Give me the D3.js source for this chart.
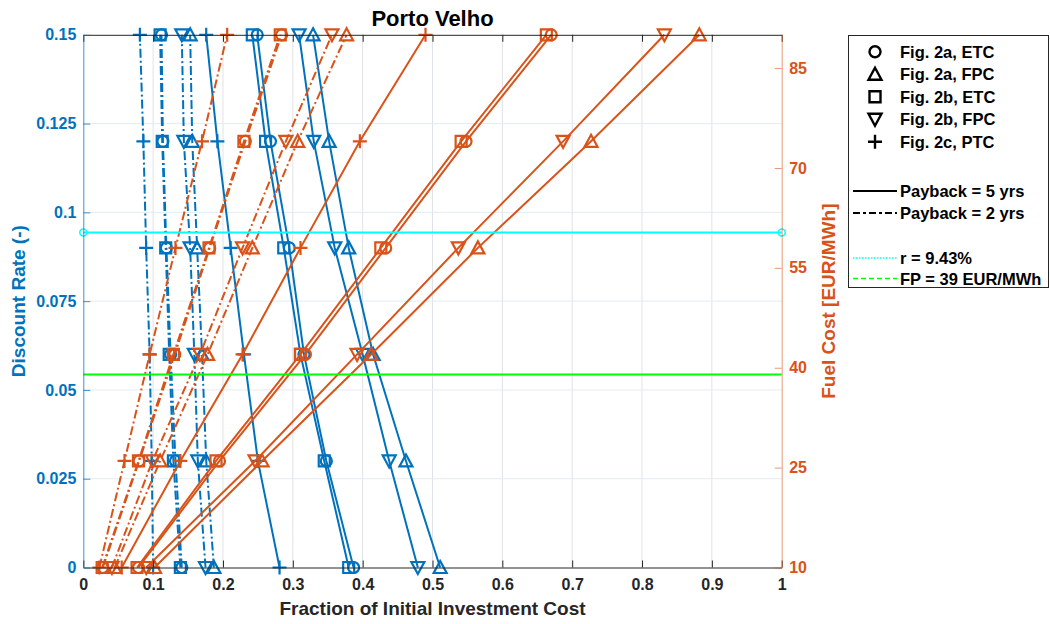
<!DOCTYPE html>
<html>
<head>
<meta charset="utf-8">
<script src="https://cdn.jsdelivr.net/npm/d3@7"></script>
<style>
  body { margin: 0; background: #fff; }
  svg { font-family: "Liberation Sans", Arial, sans-serif; font-weight: bold; }
</style>
</head>
<body>
<svg id="chart" width="1050" height="624"></svg>
<script>
// ---- Dados
const discountRates = [0, 0.03, 0.06, 0.09, 0.12, 0.15];
const fuelCosts = [10, 26, 42, 58, 74, 90];

// fraction vs discount rate (left axis, blue)
const rate5_2aETC = [0.387, 0.348, 0.316, 0.295, 0.268, 0.249];
const rate5_2aFPC = [0.511, 0.462, 0.415, 0.380, 0.352, 0.329];
const rate5_2bETC = [0.380, 0.345, 0.311, 0.287, 0.261, 0.242];
const rate5_2bFPC = [0.479, 0.438, 0.400, 0.360, 0.330, 0.309];
const rate5_2cPTC = [0.281, 0.250, 0.230, 0.211, 0.192, 0.176];
const rate2_2aETC = [0.141, 0.132, 0.125, 0.119, 0.114, 0.112];
const rate2_2aFPC = [0.187, 0.176, 0.170, 0.163, 0.156, 0.153];
const rate2_2bETC = [0.139, 0.129, 0.123, 0.118, 0.113, 0.110];
const rate2_2bFPC = [0.175, 0.164, 0.159, 0.153, 0.144, 0.141];
const rate2_2cPTC = [0.100, 0.098, 0.095, 0.090, 0.086, 0.081];

// fraction vs fuel cost (right axis, orange)
const fuel5_2aETC = [0.079, 0.195, 0.318, 0.433, 0.548, 0.670];
const fuel5_2aFPC = [0.102, 0.256, 0.412, 0.565, 0.727, 0.882];
const fuel5_2bETC = [0.077, 0.190, 0.311, 0.426, 0.541, 0.663];
const fuel5_2bFPC = [0.090, 0.246, 0.392, 0.537, 0.687, 0.832];
const fuel5_2cPTC = [0.055, 0.139, 0.228, 0.311, 0.396, 0.490];
const fuel2_2aETC = [0.028, 0.080, 0.131, 0.181, 0.232, 0.284];
const fuel2_2aFPC = [0.045, 0.110, 0.178, 0.242, 0.307, 0.377];
const fuel2_2bETC = [0.027, 0.079, 0.129, 0.180, 0.230, 0.282];
const fuel2_2bFPC = [0.041, 0.099, 0.167, 0.228, 0.290, 0.356];
const fuel2_2cPTC = [0.023, 0.059, 0.095, 0.132, 0.170, 0.206];

const refRate = 0.0943;
const refFuel = 39;

const xTicks = [0, 0.1, 0.2, 0.3, 0.4, 0.5, 0.6, 0.7, 0.8, 0.9, 1];
const leftTicks = [0, 0.025, 0.05, 0.075, 0.1, 0.125, 0.15];
const rightTicks = [10, 25, 40, 55, 70, 85];

const legendMarkers = [
    { m: 'o', label: 'Fig. 2a, ETC' },
    { m: '^', label: 'Fig. 2a, FPC' },
    { m: 's', label: 'Fig. 2b, ETC' },
    { m: 'v', label: 'Fig. 2b, FPC' },
    { m: '+', label: 'Fig. 2c, PTC' }
];

// ---- Config
const blue = '#0072BD';
const orange = '#D95319';
const dashDot = '9,3,2,3';
const fontFam = '"Liberation Sans", Arial, sans-serif';

const margens = { left: 83.3, right: 268.3, top: 34.8, bottom: 56.5 };
const svg = d3.select('#chart');
const W = 1050 - margens.left - margens.right;
const H = 624 - margens.top - margens.bottom;

// ---- Escalas
const mapX = d3.scaleLinear().domain([0, 1]).range([0, W]);
const mapYL = d3.scaleLinear().domain([0, 0.15]).range([H, 0]);
const mapYR = d3.scaleLinear().domain([10, 90]).range([H, 0]);

const markerPath = (m) => {
    if (m === 'o') return 'M5.5,0A5.5,5.5 0 1,1 -5.5,0A5.5,5.5 0 1,1 5.5,0Z';
    if (m === '^') return 'M0,-6.5L6.5,5.5L-6.5,5.5Z';
    if (m === 'v') return 'M0,6.5L6.5,-5.5L-6.5,-5.5Z';
    if (m === 's') return 'M-5.5,-5.5H5.5V5.5H-5.5Z';
    return 'M-7,0H7M0,-7V7';
};

const g = svg.append('g').attr('transform', `translate(${margens.left}, ${margens.top})`);

// ---- Grid
g.append('g').selectAll('line').data(xTicks.slice(1, -1)).join('line')
    .attr('x1', d => mapX(d)).attr('x2', d => mapX(d))
    .attr('y1', 0).attr('y2', H)
    .attr('stroke', '#dfe2e6').attr('stroke-width', 1);
g.append('g').selectAll('line').data(leftTicks.slice(1, -1)).join('line')
    .attr('x1', 0).attr('x2', W)
    .attr('y1', d => mapYL(d)).attr('y2', d => mapYL(d))
    .attr('stroke', '#e3ecf4').attr('stroke-width', 1);

// ---- Series
const blueSeries = [
    { v: rate5_2aETC, m: 'o', dash: null }, { v: rate5_2aFPC, m: '^', dash: null },
    { v: rate5_2bETC, m: 's', dash: null }, { v: rate5_2bFPC, m: 'v', dash: null },
    { v: rate5_2cPTC, m: '+', dash: null },
    { v: rate2_2aETC, m: 'o', dash: dashDot }, { v: rate2_2aFPC, m: '^', dash: dashDot },
    { v: rate2_2bETC, m: 's', dash: dashDot }, { v: rate2_2bFPC, m: 'v', dash: dashDot },
    { v: rate2_2cPTC, m: '+', dash: dashDot }
];
const orangeSeries = [
    { v: fuel5_2aETC, m: 'o', dash: null }, { v: fuel5_2aFPC, m: '^', dash: null },
    { v: fuel5_2bETC, m: 's', dash: null }, { v: fuel5_2bFPC, m: 'v', dash: null },
    { v: fuel5_2cPTC, m: '+', dash: null },
    { v: fuel2_2aETC, m: 'o', dash: dashDot }, { v: fuel2_2aFPC, m: '^', dash: dashDot },
    { v: fuel2_2bETC, m: 's', dash: dashDot }, { v: fuel2_2bFPC, m: 'v', dash: dashDot },
    { v: fuel2_2cPTC, m: '+', dash: dashDot }
];

const drawSeries = (series, levels, mapY, color) => {
    const grp = g.append('g');
    series.forEach(s => {
        const pts = s.v.map((x, i) => ({ x: x, y: levels[i] }));
        grp.append('path')
            .datum(pts)
            .attr('d', d3.line().x(d => mapX(d.x)).y(d => mapY(d.y)))
            .attr('fill', 'none')
            .attr('stroke', color)
            .attr('stroke-width', 2)
            .attr('stroke-dasharray', s.dash);
        grp.selectAll(null).data(pts).join('path')
            .attr('transform', d => `translate(${mapX(d.x)}, ${mapY(d.y)})`)
            .attr('d', markerPath(s.m))
            .attr('fill', 'none')
            .attr('stroke', color)
            .attr('stroke-width', 2.2);
    });
};

drawSeries(blueSeries, discountRates, mapYL, blue);
drawSeries(orangeSeries, fuelCosts, mapYR, orange);

// ---- Linhas de referência
g.append('line')
    .attr('x1', mapX(0)).attr('x2', mapX(1))
    .attr('y1', mapYL(refRate)).attr('y2', mapYL(refRate))
    .attr('stroke', '#00FFFF').attr('stroke-width', 2);
g.selectAll('.refpt').data([0, 1]).join('circle')
    .attr('class', 'refpt')
    .attr('cx', d => mapX(d)).attr('cy', mapYL(refRate)).attr('r', 3.5)
    .attr('fill', 'none').attr('stroke', '#00FFFF').attr('stroke-width', 1.5);
g.append('line')
    .attr('x1', mapX(0)).attr('x2', mapX(1))
    .attr('y1', mapYR(refFuel)).attr('y2', mapYR(refFuel))
    .attr('stroke', '#00FF00').attr('stroke-width', 2);

// ---- Eixos
const styleText = (sel, color) => sel.selectAll('text')
    .attr('fill', color).style('font-size', '16px').style('font-weight', 'bold').style('font-family', fontFam);

const xAxis = g.append('g').attr('transform', `translate(0, ${H})`)
    .call(d3.axisBottom(mapX).tickValues(xTicks).tickFormat(d3.format('')).tickSizeInner(-7).tickSizeOuter(0).tickPadding(11));
xAxis.select('.domain').attr('stroke', '#262626');
xAxis.selectAll('line').attr('stroke', '#262626');
styleText(xAxis, '#262626');

const xTop = g.append('g')
    .call(d3.axisTop(mapX).tickValues(xTicks).tickFormat('').tickSizeInner(-7).tickSizeOuter(0));
xTop.select('.domain').attr('stroke', '#262626');
xTop.selectAll('line').attr('stroke', '#262626');

const yAxisL = g.append('g')
    .call(d3.axisLeft(mapYL).tickValues(leftTicks).tickFormat(d3.format('')).tickSizeInner(-7).tickSizeOuter(0).tickPadding(7));
yAxisL.select('.domain').attr('stroke', blue).attr('stroke-opacity', 0.75);
yAxisL.selectAll('line').attr('stroke', blue).attr('stroke-opacity', 0.75);
styleText(yAxisL, blue);

const yAxisR = g.append('g').attr('transform', `translate(${W}, 0)`)
    .call(d3.axisRight(mapYR).tickValues(rightTicks).tickSizeInner(-7).tickSizeOuter(0).tickPadding(7.5));
yAxisR.select('.domain').attr('stroke', orange).attr('stroke-opacity', 0.6);
yAxisR.selectAll('line').attr('stroke', orange).attr('stroke-opacity', 0.6);
styleText(yAxisR, orange);

// ---- Títulos
svg.append('text')
    .attr('x', margens.left + W / 2).attr('y', 26)
    .attr('text-anchor', 'middle').style('font-size', '22px').attr('fill', '#000')
    .text('Porto Velho');
svg.append('text')
    .attr('x', margens.left + W / 2).attr('y', 615)
    .attr('text-anchor', 'middle').style('font-size', '19px').attr('fill', '#262626')
    .text('Fraction of Initial Investment Cost');
svg.append('text')
    .attr('transform', `translate(25, ${margens.top + H / 2}) rotate(-90)`)
    .attr('text-anchor', 'middle').style('font-size', '19px').attr('fill', blue)
    .text('Discount Rate (-)');
svg.append('text')
    .attr('transform', `translate(835, ${margens.top + H / 2}) rotate(-90)`)
    .attr('text-anchor', 'middle').style('font-size', '19px').attr('fill', orange)
    .text('Fuel Cost [EUR/MWh]');

// ---- Legenda
const leg = svg.append('g');
leg.append('rect')
    .attr('x', 848.5).attr('y', 35.5).attr('width', 200).attr('height', 252)
    .attr('fill', '#fff').attr('stroke', '#262626').attr('stroke-width', 1);

legendMarkers.forEach((d, i) => {
    const y = 51.7 + i * 22.5;
    leg.append('path')
        .attr('transform', `translate(875, ${y})`)
        .attr('d', markerPath(d.m))
        .attr('fill', 'none').attr('stroke', '#000').attr('stroke-width', 2.4);
    leg.append('text')
        .attr('x', 900).attr('y', y + 6)
        .style('font-size', '16.5px').attr('fill', '#000')
        .text(d.label);
});

const legLines = [
    { y: 191, dash: null, color: '#000', w: 2, label: 'Payback = 5 yrs' },
    { y: 213, dash: '7,3,3,3', color: '#000', w: 2, label: 'Payback = 2 yrs' },
    { y: 258, dash: '1.5,1.5', color: '#00FFFF', w: 1.5, label: 'r = 9.43%' },
    { y: 278.5, dash: '5,3', color: '#00FF00', w: 1.5, label: 'FP = 39 EUR/MWh' }
];
legLines.forEach(d => {
    leg.append('line')
        .attr('x1', 853).attr('x2', 897).attr('y1', d.y).attr('y2', d.y)
        .attr('stroke', d.color).attr('stroke-width', d.w).attr('stroke-dasharray', d.dash);
    leg.append('text')
        .attr('x', 900).attr('y', d.y + 6)
        .style('font-size', '16.5px').attr('fill', '#000')
        .text(d.label);
});
</script>
</body>
</html>
